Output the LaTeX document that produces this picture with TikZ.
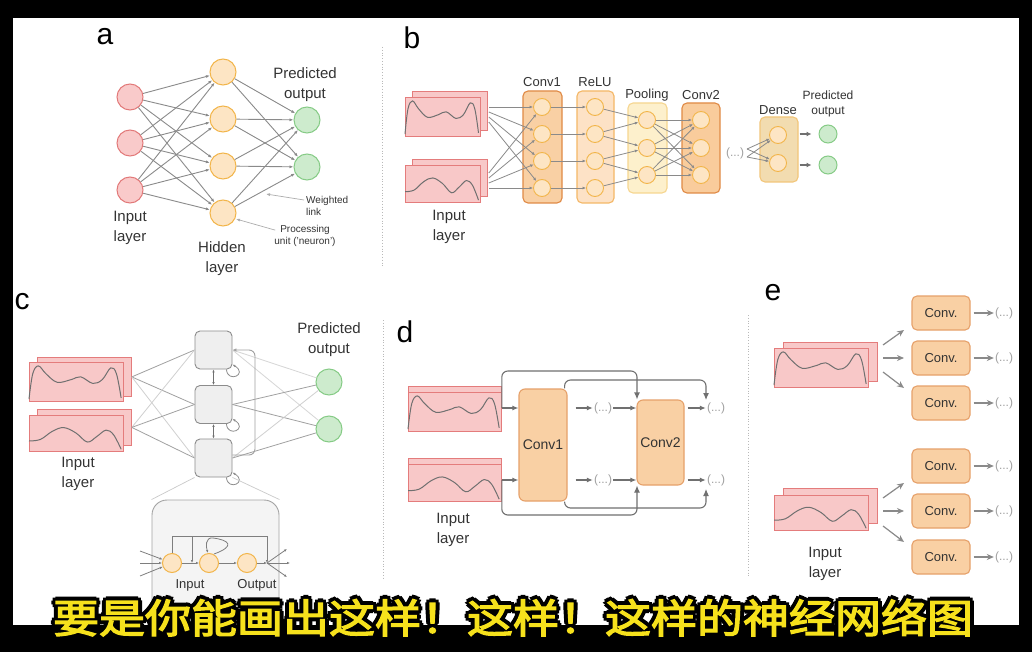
\documentclass[tikz,border=0pt]{standalone}
\usepackage{fontspec}
\setmainfont{Liberation Sans}
\newfontfamily\cjk[FakeBold=3]{Noto Sans CJK SC}
\usetikzlibrary{arrows.meta,calc}
\definecolor{txt}{HTML}{333333}
\definecolor{lnc}{HTML}{8A8A8A}
\definecolor{redf}{HTML}{F9CACA}
\definecolor{redd}{HTML}{E27A7A}
\definecolor{orf}{HTML}{FDE5C4}
\definecolor{ord}{HTML}{F2B54A}
\definecolor{grf}{HTML}{CDEBCD}
\definecolor{grd}{HTML}{86CB86}
\definecolor{pinkf}{HTML}{F8C8C8}
\definecolor{pinkd}{HTML}{E47C7C}
\definecolor{convf}{HTML}{F9D0A4}
\definecolor{convd}{HTML}{E08A45}
\definecolor{reluf}{HTML}{FDE2C6}
\definecolor{relud}{HTML}{F4B766}
\definecolor{poolf}{HTML}{FDF0CC}
\definecolor{poold}{HTML}{F6D690}
\definecolor{densef}{HTML}{F2DCB0}
\definecolor{densed}{HTML}{F2C67A}
\definecolor{darkc}{HTML}{707070}
\definecolor{dotc}{HTML}{A0A0A0}
\definecolor{subyel}{HTML}{F6E11C}
\definecolor{rbf}{HTML}{EFEFEF}
\definecolor{rbd}{HTML}{8C8C8C}
\newcommand\instack[8]{%
  \node[inrect, anchor=north west, minimum width=#4pt, minimum height=#5pt] (#1b) at (#6,#7) {};
  \node[inrect, anchor=north west, minimum width=#4pt, minimum height=#5pt] (#1) at (#2,#3) {};
  \begin{scope}[shift={(#2,#3)}, xscale=#4, yscale=#5]
    \ifnum#8=1
      \draw[wavec] plot[smooth,tension=0.6] coordinates {(0,0.95) (0.04,0.3) (0.1,0.1) (0.18,0.3) (0.3,0.52) (0.45,0.45) (0.55,0.38) (0.68,0.55) (0.78,0.45) (0.87,0.15) (0.93,0.3) (0.98,0.92)};
    \else
      \draw[wavec] plot[smooth,tension=0.6] coordinates {(0,0.72) (0.12,0.68) (0.25,0.45) (0.37,0.35) (0.5,0.5) (0.62,0.75) (0.72,0.6) (0.82,0.42) (0.9,0.55) (0.98,0.95)};
    \fi
  \end{scope}}
\begin{document}
\begin{tikzpicture}[x=1pt,y=-1pt,
  lab/.style={text=txt, align=center, font=\fontsize{15}{20}\selectfont, inner sep=0},
  slab/.style={text=txt, align=center, font=\fontsize{13}{15}\selectfont, inner sep=0},
  tlab/.style={text=txt, font=\fontsize{10}{12}\selectfont, inner sep=0},
  plab/.style={text=black, font=\fontsize{30}{30}\selectfont, inner sep=0},
  neu/.style={circle, minimum size=26pt, inner sep=0, line width=1pt},
  bneu/.style={circle, minimum size=17pt, inner sep=0, line width=0.9pt, fill=orf, draw=ord},
  inrect/.style={rectangle, fill=pinkf, draw=pinkd, line width=0.8pt, inner sep=0},
  wavec/.style={draw=darkc, line width=1pt},
  alnk/.style={draw=lnc, line width=0.9pt, -{Latex[length=4pt,width=3pt]}},
  ptr/.style={draw=lnc!70, line width=0.7pt, -{Latex[length=4pt,width=3pt]}},
  bbox/.style={rectangle, rounded corners=5pt, line width=1.1pt, inner sep=0},
  blnk/.style={draw=lnc, line width=0.8pt, -{Latex[length=3.5pt,width=3pt]}},
  barr/.style={draw=darkc, line width=1.6pt, -{Latex[length=5pt,width=5pt]}},
  dotlab/.style={text=dotc, font=\fontsize{12}{12}\selectfont, inner sep=1pt},
  rbox/.style={rectangle, rounded corners=5pt, fill=rbf, draw=rbd, line width=0.9pt, minimum width=37pt, minimum height=38pt, inner sep=0},
  clnk/.style={draw=lnc!#1, line width=0.8pt},
  cdbl/.style={draw=darkc, line width=0.7pt, {Latex[length=3pt,width=2.5pt]}-{Latex[length=3pt,width=2.5pt]}},
  cloop/.style={draw=darkc!80, line width=0.8pt, -{Latex[length=3pt,width=2.5pt]}},
  cdl/.style={draw=darkc!90, line width=0.8pt, -{Latex[length=3pt,width=2.5pt]}},
  dconv/.style={rectangle, rounded corners=6pt, fill=convf, draw=convd!80, line width=1.1pt, text=txt, font=\fontsize{14}{14}\selectfont, inner sep=0},
  darr/.style={draw=darkc, line width=1.2pt, -{Latex[length=6pt,width=5pt]}},
  dskip/.style={draw=darkc, line width=1.1pt, rounded corners=6pt, -{Latex[length=7pt,width=6pt]}},
  econv/.style={rectangle, rounded corners=5pt, fill=convf, draw=convd!80, line width=1.1pt, text=txt, font=\fontsize{13}{13}\selectfont, minimum width=58pt, minimum height=34pt, inner sep=0},
  earr/.style={draw=lnc, line width=1.2pt, -{Stealth[length=7pt,width=6pt]}},
  sep/.style={draw=gray!55, line width=0.8pt, dotted},
  subt/.style={anchor=base, xscale=1.15, inner sep=0, font=\cjk\fontsize{40}{40}\selectfont}
]
\useasboundingbox (0,0) rectangle (1032,652);
\fill[black] (0,0) rectangle (1032,652);
\fill[white] (13,18) rectangle (1019,625);
\begin{scope}
\clip (13,18) rectangle (1019,625);
% separators
\draw[sep] (382,47) -- (382,267);
\draw[sep] (383,320) -- (383,578);
\draw[sep] (748,315) -- (748,578);

% ---------------- panel a
\node[plab] at (105,37) {a};
\foreach \i/\y in {1/97,2/143,3/190} \node[neu,fill=redf,draw=redd] (ai\i) at (130,\y) {};
\foreach \i/\y in {1/72,2/119,3/166,4/213} \node[neu,fill=orf,draw=ord] (ah\i) at (223,\y) {};
\foreach \i/\y in {1/120,2/167} \node[neu,fill=grf,draw=grd] (ao\i) at (307,\y) {};
\foreach \i in {1,2,3} \foreach \j in {1,...,4} \draw[alnk] (ai\i) -- (ah\j);
\foreach \j in {1,...,4} \foreach \k in {1,2} \draw[alnk] (ah\j) -- (ao\k);
\node[lab] at (305,84.5) {Predicted\\output};
\node[lab] at (130,228) {Input\\layer};
\node[lab] at (222,259) {Hidden\\layer};
\node[tlab, align=left, anchor=west] (wl) at (306,206) {Weighted\\link};
\node[tlab, align=center] (pu) at (305,236) {Processing\\unit ('neuron')};
\coordinate (wlt) at (266,194);
\coordinate (put) at (236,219);
\draw[ptr] ($(wl.west)+(-2,-6)$) -- (wlt);
\draw[ptr] ($(pu.north west)+(1,5)$) -- (put);

% ---------------- panel b
\node[plab] at (412,38) {b};
\instack{bin1}{405}{97}{75}{39}{412}{91}{1}
\instack{bin2}{405}{165}{75}{37}{412}{159}{2}
\node[lab] at (449,227) {Input\\layer};
\node[bbox, fill=convf, draw=convd, minimum width=39pt, minimum height=112pt] (bC1) at (542.5,147) {};
\node[bbox, fill=reluf, draw=relud, minimum width=37pt, minimum height=112pt] (bR) at (595.5,147) {};
\node[bbox, fill=poolf, draw=poold, minimum width=39pt, minimum height=90pt] (bP) at (647.5,148) {};
\node[bbox, fill=convf!95!orange, draw=convd, minimum width=38pt, minimum height=90pt] (bC2) at (701,148) {};
\node[bbox, fill=densef, draw=densed, minimum width=38pt, minimum height=65pt] (bD) at (779,149.5) {};
\node[slab] at (542,82) {Conv1};
\node[slab] at (595,82) {ReLU};
\node[slab] at (647,95) {Pooling};
\node[slab] at (701,95) {Conv2};
\node[slab] at (778,110) {Dense};
\node[text=txt, align=center, font=\fontsize{12}{15}\selectfont, inner sep=0] at (828,104) {Predicted\\output};
\foreach \i/\y in {1/107,2/134,3/161,4/188} {\node[bneu] (bc\i) at (542,\y) {}; \node[bneu] (br\i) at (595,\y) {};}
\foreach \i/\y in {1/120,2/148,3/175} {\node[bneu] (bp\i) at (647,\y) {}; \node[bneu] (bq\i) at (701,\y) {};}
\node[bneu] (bd1) at (778,135) {};
\node[bneu] (bd2) at (778,163) {};
\node[neu, minimum size=18pt, fill=grf, draw=grd] (bo1) at (828,134) {};
\node[neu, minimum size=18pt, fill=grf, draw=grd] (bo2) at (828,165) {};
\foreach \i in {1,...,4} {
  \draw[blnk] ($(bin1b.north east)+(1,11+5*\i)$) -- (bc\i);
  \draw[blnk] ($(bin2b.north east)+(1,9+5*\i)$) -- (bc\i);
  \draw[blnk] (bc\i) -- (br\i);
}
\foreach \a/\b in {1/1,2/1,2/2,3/2,3/3,4/3} \draw[blnk] (br\a) -- (bp\b);
\foreach \a in {1,2,3} \foreach \b in {1,2,3} \draw[blnk] (bp\a) -- (bq\b);
\node[dotlab] (bdots) at (735,153) {(...)};
\coordinate (bx1) at (747,149);
\coordinate (bx2) at (747,157);
\foreach \a in {1,2} {\draw[blnk] (bx\a) -- (bd1); \draw[blnk] (bx\a) -- (bd2);}
\draw[barr, shorten <=1pt, shorten >=7pt] (bD.east |- bo1) -- (bo1);
\draw[barr, shorten <=1pt, shorten >=7pt] (bD.east |- bo2) -- (bo2);

% ---------------- panel c
\node[plab] at (22,302) {c};
\instack{cin1}{29}{362}{94}{39}{37}{357}{1}
\instack{cin2}{29}{415}{94}{36}{37}{409}{2}
\node[lab] at (78,474) {Input\\layer};
\node[lab] at (329,340) {Predicted\\output};
\node[rbox] (cr1) at (213.5,350) {};
\node[rbox] (cr2) at (213.5,404.5) {};
\node[rbox] (cr3) at (213.5,458) {};
\node[neu,fill=grf,draw=grd] (co1) at (329,382) {};
\node[neu,fill=grf,draw=grd] (co2) at (329,429) {};
\draw[clnk=80] (cin1b.east) -- (cr1.west);
\draw[clnk=80] (cin1b.east) -- (cr2.west);
\draw[clnk=40] (cin1b.east) -- (cr3.west);
\draw[clnk=40] (cin2b.east) -- (cr1.west);
\draw[clnk=80] (cin2b.east) -- (cr2.west);
\draw[clnk=80] (cin2b.east) -- (cr3.west);
\draw[clnk=35] (cr1.east) -- (co1);
\draw[clnk=35] (cr1.east) -- (co2);
\draw[clnk=80] (cr2.east) -- (co1);
\draw[clnk=80] (cr2.east) -- (co2);
\draw[clnk=40] (cr3.east) -- (co1);
\draw[clnk=80] (cr3.east) -- (co2);
\draw[cdbl] (cr1.south) -- (cr2.north);
\draw[cdbl] (cr2.south) -- (cr3.north);
\foreach \i in {1,2,3}
  \draw[cloop] ($(cr\i.south east)+(-6,0)$) .. controls +(1,14) and +(16,10) .. ($(cr\i.south east)+(0,-5)$);
\coordinate (cfb) at (255,400);
\draw[draw=lnc!80, line width=0.9pt, rounded corners=6pt, -{Latex[length=4pt,width=3.5pt]}] ($(cr3.east)+(0,-3)$) -| (cfb) |- (cr1.east);
\node[rectangle, rounded corners=15pt, fill=rbf!70, draw=rbd!80, line width=0.9pt, minimum width=127pt, minimum height=160pt, inner sep=0] (cdet) at (215.5,580) {};
\draw[draw=lnc!45, line width=0.7pt] (cr3.south west) -- (cdet.north west);
\draw[draw=lnc!45, line width=0.7pt] (cr3.south east) -- (cdet.north east);
\foreach \i/\x in {1/172,2/209,3/247} \node[circle, minimum size=19pt, inner sep=0, fill=orf, draw=ord, line width=1pt] (cu\i) at (\x,563) {};
\coordinate (cj) at (267,563);
\coordinate (cbr) at (267,536);
\coordinate (cv) at (192,536);
\coordinate (cvb) at (192,563);
\draw[cdl] (cu1.north) |- (cbr) -- (cj);
\draw[cdl] (cv) -- (cvb);
\draw[cdl] (cu1) -- (cu2);
\draw[cdl] (cu2) -- (cu3);
\draw[cdl] (cu3) -- (cj);
\coordinate (cf1) at (287,549);
\coordinate (cf2) at (290,563);
\coordinate (cf3) at (287,577);
\foreach \k in {1,2,3} \draw[cdl] (cj) -- (cf\k);
\coordinate (ci1) at (140,551);
\coordinate (ci2) at (140,563);
\coordinate (ci3) at (140,576);
\foreach \k in {1,2,3} \draw[cdl] (ci\k) -- (cu1);
\draw[cdl] ($(cu2.north)+(5,1)$) .. controls +(22,-8) and +(16,2) .. ($(cu2.north)+(4,-15)$) .. controls +(-8,-1) and +(-2,-6) .. ($(cu2.north)+(-1,0)$);
\node[slab] at (190,585) {Input};
\node[slab] at (257,585) {Output};

% ---------------- panel d
\node[plab] at (405,332) {d};
\instack{din1}{408}{392}{93}{39}{408}{386}{1}
\instack{din2}{408}{464}{93}{37}{408}{458}{2}
\node[lab] at (453,530) {Input\\layer};
\node[dconv, minimum width=48pt, minimum height=112pt] (dC1) at (543,445) {Conv1};
\node[dconv, minimum width=47pt, minimum height=85pt] (dC2) at (660.5,442.5) {Conv2};
\node[dotlab] (dd1) at (603,408) {(...)};
\node[dotlab] (dd2) at (603,480) {(...)};
\node[dotlab] (dd3) at (716,408) {(...)};
\node[dotlab] (dd4) at (716,480) {(...)};
\draw[darr] (din1.east |- dd1) -- (dd1 -| dC1.west);
\draw[darr] (din2.east |- dd2) -- (dd2 -| dC1.west);
\draw[darr, shorten <=8pt] (dC1.east |- dd1) -- (dd1.west);
\draw[darr, shorten <=8pt] (dC1.east |- dd2) -- (dd2.west);
\draw[darr] (dd1.east) -- (dd1 -| dC2.west);
\draw[darr] (dd2.east) -- (dd2 -| dC2.west);
\draw[darr, shorten <=3pt] (dC2.east |- dd3) -- (dd3.west);
\draw[darr, shorten <=3pt] (dC2.east |- dd4) -- (dd4.west);
\coordinate (dk1) at (637,371);
\coordinate (dk2) at (706,380);
\coordinate (dk2e) at (706,400);
\coordinate (dk3) at (637,515);
\coordinate (dk4) at (706,508);
\coordinate (dk4e) at (706,489);
\draw[dskip] (din1.east |- dd1) |- (dk1) -- (dk1 |- dC2.north);
\draw[dskip] ($(dC1.north east)+(-3,0)$) |- (dk2) -- (dk2e);
\draw[dskip] (din2.east |- dd2) |- (dk3) -- (dk3 |- dC2.south);
\draw[dskip] ($(dC1.south east)+(-3,0)$) |- (dk4) -- (dk4e);

% ---------------- panel e
\node[plab] at (773,293) {e};
\instack{ein1}{774}{348}{94}{39}{783}{342}{1}
\instack{ein2}{774}{495}{94}{35}{783}{488}{2}
\node[lab] at (825,564) {Input\\layer};
\foreach \i/\y in {1/313,2/358,3/403,4/466,5/511,6/557} {
  \node[econv] (ec\i) at (941,\y) {Conv.};
  \node[dotlab] (ed\i) at (1004,\y) {(...)};
  \draw[earr, shorten <=3pt] (ec\i.east) -- (ed\i.west);
}
\coordinate (es1) at (883,345); \coordinate (ee1) at (904,330);
\coordinate (es2) at (883,358); \coordinate (ee2) at (904,358);
\coordinate (es3) at (883,372); \coordinate (ee3) at (904,388);
\coordinate (es4) at (883,498); \coordinate (ee4) at (904,483);
\coordinate (es5) at (883,511); \coordinate (ee5) at (904,511);
\coordinate (es6) at (883,526); \coordinate (ee6) at (904,542);
\foreach \k in {1,...,6} \draw[earr] (es\k) -- (ee\k);
\end{scope}

% ---------------- subtitle (black outline behind yellow text)
\foreach \a in {0,45,...,315}
  \node[subt, text=black] at ($(513,633)+(\a:4pt)$) {要是你能画出这样！这样！这样的神经网络图};
\node[subt, text=subyel] (sub) at (513,633) {要是你能画出这样！这样！这样的神经网络图};
\end{tikzpicture}
\end{document}
